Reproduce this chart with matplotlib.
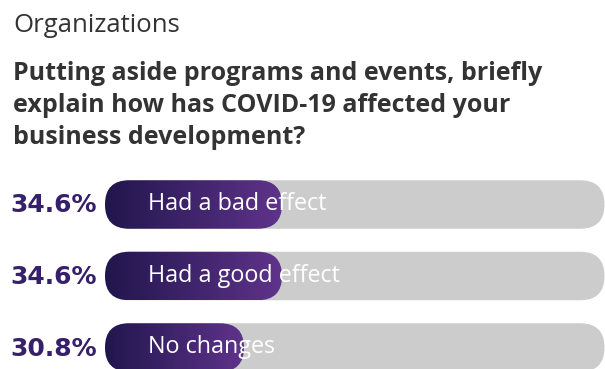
import numpy as np
import matplotlib.pyplot as plt
from matplotlib.patches import FancyBboxPatch
from matplotlib.colors import LinearSegmentedColormap

plt.rcParams['font.family'] = ['Open Sans', 'DejaVu Sans']

# data
answers = ["Had a bad effect", "Had a good effect", "No changes"]
shares = [34.6, 34.6, 30.8]
pct_labels = ["34.6%", "34.6%", "30.8%"]

subtitle = "Organizations"
question = ["Putting aside programs and events, briefly",
            "explain how has COVID-19 affected your",
            "business development?"]

W, H = 605, 369
fig = plt.figure(figsize=(W / 100, H / 100), dpi=100)

# header text
fig.text(13 / W, 1 - 32 / H, subtitle, fontsize=18.5, color="#333333", va="baseline")
for i, line in enumerate(question):
    fig.text(13 / W, 1 - (80 + 32 * i) / H, line, fontsize=18, fontweight="bold",
             color="#333333", va="baseline")

# bars area: 10 px per unit both ways
x_lo = 16.9
x_hi = x_lo + 50.0
row_gap = 7.15
bar_h = 4.85
ax = fig.add_axes([105 / W, 0, 500 / W, 199 / H])
ax.axis("off")

grad = LinearSegmentedColormap.from_list("g", ["#21164d", "#5f338b"])

for i, (name, val, lab) in enumerate(zip(answers, shares, pct_labels)):
    yc = -row_gap * i
    track = FancyBboxPatch((x_lo, yc - bar_h / 2), x_hi - x_lo - 0.05, bar_h,
                           boxstyle="round,pad=0,rounding_size=2.42",
                           fc="#cccccc", ec="none", clip_on=False)
    ax.add_patch(track)
    fill = FancyBboxPatch((x_lo, yc - bar_h / 2), val - x_lo, bar_h,
                          boxstyle="round,pad=0,rounding_size=2.42",
                          fc="none", ec="none")
    ax.add_patch(fill)
    im = ax.imshow(np.linspace(0, 1, 256)[None, :], cmap=grad, aspect="auto",
                   extent=(x_lo, val, yc - bar_h / 2, yc + bar_h / 2), zorder=2)
    im.set_clip_path(fill)
    ax.text(x_lo + 4.3, yc + 0.05, name, color="white", fontsize=16.8, va="center",
            ha="left", zorder=3)
    ax.text(x_lo - 0.8, yc - 0.1, lab, color="#36206a", fontsize=18, fontweight="bold",
            va="center", ha="right", clip_on=False, family="DejaVu Sans")

ax.set_xlim(x_lo, x_hi)
ax.set_ylim(-row_gap * 2 - 2.15, 3.45)

fig.savefig("out.png", dpi=100)
